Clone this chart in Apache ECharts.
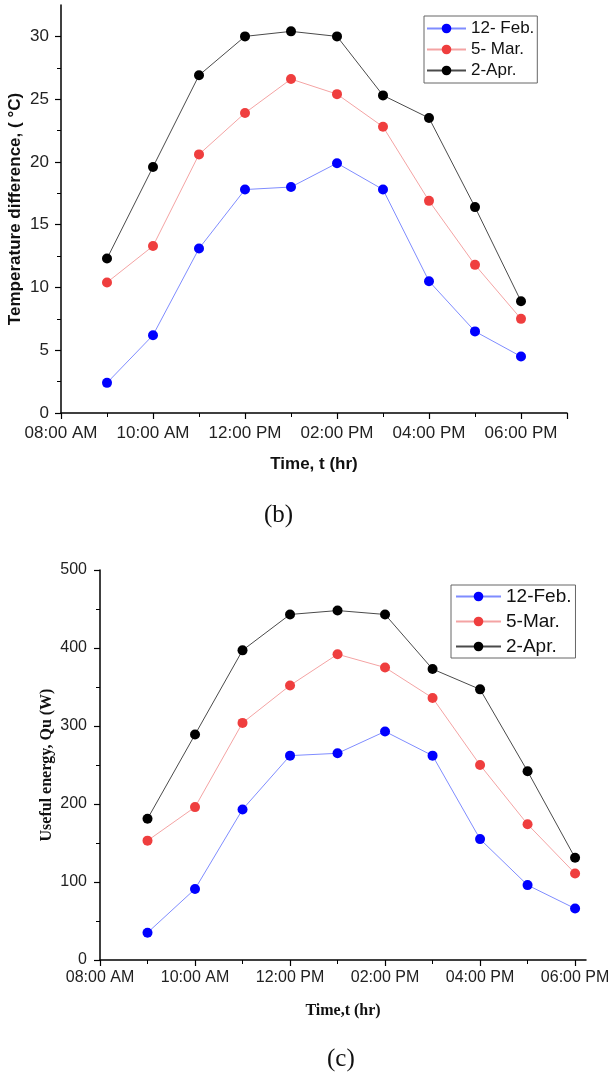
<!DOCTYPE html>
<html><head><meta charset="utf-8">
<script src="https://cdn.jsdelivr.net/npm/echarts@6/dist/echarts.min.js"></script>
<style>html,body{margin:0;padding:0;background:#fff}#c{width:608px;height:1074px}</style>
</head><body><div id="c"></div>
<script>
// ---- data ----
const hours = [9, 10, 11, 12, 13, 14, 15, 16, 17, 18];
const tickHours = [8, 10, 12, 14, 16, 18];
const tickLabels = ['08:00 AM', '10:00 AM', '12:00 PM', '02:00 PM', '04:00 PM', '06:00 PM'];
const tempTicks = [0, 5, 10, 15, 20, 25, 30];
const namesB = ['12- Feb.', '5- Mar.', '2-Apr.'];
const namesC = ['12-Feb.', '5-Mar.', '2-Apr.'];
const tempFeb = [2.4, 6.2, 13.1, 17.8, 18.0, 19.9, 17.8, 10.5, 6.5, 4.5];
const tempMar = [10.4, 13.3, 20.6, 23.9, 26.6, 25.4, 22.8, 16.9, 11.8, 7.5];
const tempApr = [12.3, 19.6, 26.9, 30.0, 30.4, 30.0, 25.3, 23.5, 16.4, 8.9];
const qFeb = [35, 91, 193, 262, 265, 293, 262, 155, 96, 66];
const qMar = [153, 196, 304, 352, 392, 375, 336, 250, 174, 111];
const qApr = [181, 289, 397, 443, 448, 443, 373, 347, 242, 131];

const markerColors = ['#0000ff', '#ef3e3e', '#000000'];
const lineColors = ['#7f8cff', '#f4a3a3', '#4a4a4a'];

const chart = echarts.init(document.getElementById('c'), null, {renderer: 'canvas'});
const SANS = 'Arial, "Liberation Sans", sans-serif';
const SERIF = '"Times New Roman", "Liberation Serif", serif';
const fmtHour = v => { const i = tickHours.indexOf(v); return i >= 0 ? tickLabels[i] : ''; };

function xAxis(gridIndex, max, fontSize, margin, name, nameFont, nameSize, nameGap, tickExtra) {
  return {
    type: 'value', gridIndex, min: 8, max, interval: 2,
    name, nameLocation: 'middle', nameGap, nameMoveOverlap: false,
    nameTextStyle: {fontFamily: nameFont, fontWeight: 'bold', fontSize: nameSize, color: '#111'},
    axisLine: {show: true, lineStyle: {color: '#000', width: 1.5}},
    axisTick: {show: true, length: 6, lineStyle: {color: '#000', width: 1.2}, customValues: tickHours.concat(tickExtra)},
    minorTick: {show: true, splitNumber: 2, length: 4, lineStyle: {color: '#000', width: 1}},
    axisLabel: {customValues: tickHours, formatter: fmtHour, fontFamily: SANS, fontSize, color: '#222', margin, hideOverlap: false},
    splitLine: {show: false}
  };
}
function yAxis(gridIndex, max, interval, custom, fontSize, margin, name, nameFont, nameSize, nameGap) {
  const ax = {
    type: 'value', gridIndex, min: 0, max, interval,
    name, nameLocation: 'middle', nameGap, nameRotate: 90, nameMoveOverlap: false,
    nameTextStyle: {fontFamily: nameFont, fontWeight: 'bold', fontSize: nameSize, color: '#111'},
    axisLine: {show: true, lineStyle: {color: '#000', width: 1.5}},
    axisTick: {show: true, length: 6, lineStyle: {color: '#000', width: 1.2}},
    minorTick: {show: true, splitNumber: 2, length: 4, lineStyle: {color: '#000', width: 1}},
    axisLabel: {fontFamily: SANS, fontSize, color: '#222', margin},
    splitLine: {show: false}
  };
  if (custom) { ax.axisTick.customValues = custom; ax.axisLabel.customValues = custom; }
  return ax;
}
function mkSeries(name, vals, k, xi, yi) {
  return {
    type: 'line', name, xAxisIndex: xi, yAxisIndex: yi,
    data: hours.map((h, i) => [h, vals[i]]),
    symbol: 'circle', symbolSize: 10,
    lineStyle: {color: lineColors[k], width: 1},
    itemStyle: {color: markerColors[k]},
    emphasis: {disabled: true}, animation: false, z: 3 - k
  };
}

chart.setOption({
  animation: false,
  grid: [
    {left: 61, top: 5, width: 506, height: 408, containLabel: false, outerBoundsMode: 'none'},
    {left: 100, top: 570, width: 486, height: 390, containLabel: false, outerBoundsMode: 'none'}
  ],
  xAxis: [
    xAxis(0, 19, 17, 12, 'Time, t (hr)', SANS, 17, 43, [19]),
    xAxis(1, 18.23, 16, 10, 'Time,t (hr)', SERIF, 16, 43, [])
  ],
  yAxis: [
    yAxis(0, 32.5, 5, tempTicks, 17, 12, 'Temperature difference, ( °C)', SANS, 17, 37),
    yAxis(1, 500, 100, null, 16, 13, 'Useful energy, Qu (W)', SERIF, 16, 45)
  ],
  legend: [
    {
      data: namesB, orient: 'vertical', left: 424, top: 16,
      itemWidth: 39, itemHeight: 12, itemGap: 4, padding: [4, 3, 4, 2],
      borderColor: '#666', borderWidth: 1, selectedMode: false,
      textStyle: {fontFamily: SANS, fontSize: 17, lineHeight: 17, color: '#111'}
    },
    {
      data: namesC, orient: 'vertical', left: 451, top: 585,
      itemWidth: 45, itemHeight: 12, itemGap: 6, padding: [2, 4, 2, 4],
      borderColor: '#666', borderWidth: 1, selectedMode: false,
      textStyle: {fontFamily: SANS, fontSize: 19, lineHeight: 19, color: '#111'}
    }
  ],
  graphic: [
    {type: 'text', left: 264, top: 503, style: {text: '(b)', font: '25px ' + SERIF, fill: '#111'}},
    {type: 'text', left: 327, top: 1047, style: {text: '(c)', font: '25px ' + SERIF, fill: '#111'}}
  ],
  series: [
    mkSeries(namesB[0], tempFeb, 0, 0, 0),
    mkSeries(namesB[1], tempMar, 1, 0, 0),
    mkSeries(namesB[2], tempApr, 2, 0, 0),
    mkSeries(namesC[0], qFeb, 0, 1, 1),
    mkSeries(namesC[1], qMar, 1, 1, 1),
    mkSeries(namesC[2], qApr, 2, 1, 1)
  ]
});
</script></body></html>
